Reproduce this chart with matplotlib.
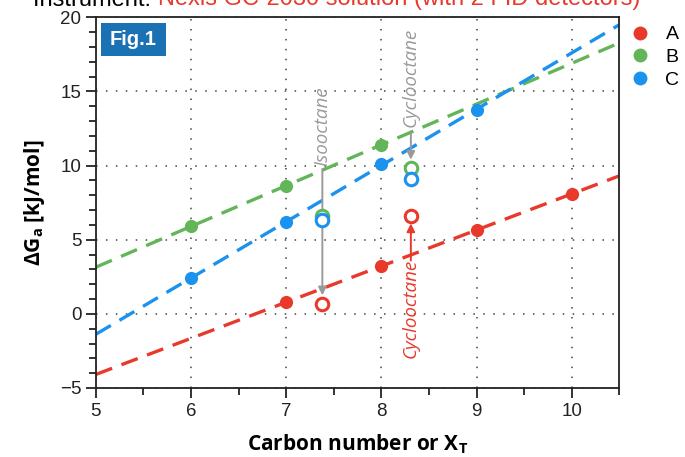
import numpy as np
import matplotlib
matplotlib.use("Agg")
import matplotlib.pyplot as plt
from matplotlib import font_manager
from matplotlib.patches import Rectangle
from matplotlib.lines import Line2D

names = {f.name for f in font_manager.fontManager.ttflist}
narrow = 'Liberation Sans Narrow' if 'Liberation Sans Narrow' in names else 'Liberation Sans'
plt.rcParams['font.family'] = [narrow, 'DejaVu Sans']
plt.rcParams['mathtext.default'] = 'regular'

# ---- data ----
series = ['A', 'B', 'C']
colors = {'A': '#e8392b', 'B': '#63b55a', 'C': '#1b93ee'}
filled_x = {'A': [7, 8, 9, 10], 'B': [6, 7, 8], 'C': [6, 7, 8, 9]}
filled_y = {'A': [0.8, 3.2, 5.65, 8.1], 'B': [5.9, 8.65, 11.4], 'C': [2.4, 6.2, 10.1, 13.75]}
open_x = {'A': [7.38, 8.31], 'B': [7.38, 8.31], 'C': [7.38, 8.31]}
open_y = {'A': [0.68, 6.6], 'B': [6.6, 9.85], 'C': [6.3, 9.1]}
xticks = [5, 6, 7, 8, 9, 10]
yticks = [-5, 0, 5, 10, 15, 20]

fig = plt.figure(figsize=(6.85, 4.57), dpi=100)
ax = fig.add_axes([0.140, 0.151, 0.764, 0.811])
ax.set_xlim(5, 10.5)
ax.set_ylim(-5, 20)

# fit lines
xl = np.array([5, 10.5])
for s in series:
    k, b = np.polyfit(filled_x[s], filled_y[s], 1)
    ax.plot(xl, k * xl + b, color=colors[s], lw=2.4, dashes=(5.2, 3), zorder=2)

# annotations (arrows)
gray = '#9a9a9a'
ax.annotate('', xy=(7.38, 1.25), xytext=(7.38, 9.75),
            arrowprops=dict(arrowstyle='-|>', color=gray, lw=1.4, mutation_scale=12,
                            shrinkA=0, shrinkB=0), zorder=3)
ax.annotate('', xy=(8.31, 10.4), xytext=(8.31, 12.2),
            arrowprops=dict(arrowstyle='-|>', color=gray, lw=1.4, mutation_scale=12,
                            shrinkA=0, shrinkB=0), zorder=3)
ax.annotate('', xy=(8.31, 6.1), xytext=(8.31, 3.6),
            arrowprops=dict(arrowstyle='-|>', color=colors['A'], lw=1.4, mutation_scale=12,
                            shrinkA=0, shrinkB=0), zorder=3)
tfont = dict(family=['Open Sans', 'DejaVu Sans'], style='italic', fontsize=13.5, rotation=90)
ax.text(7.38, 10.0, 'Isooctane', color=gray, ha='center', va='bottom', **tfont)
ax.text(8.31, 12.6, 'Cyclooctane', color=gray, ha='center', va='bottom', **tfont)
ax.text(8.31, 3.7, 'Cyclooctane', color=colors['A'], ha='center', va='top', **tfont)

# markers
for s in series:
    ax.plot(filled_x[s], filled_y[s], 'o', color=colors[s], ms=9.5, mew=0, zorder=5)
for s in ['A', 'B', 'C']:
    ax.plot(open_x[s], open_y[s], 'o', mfc='white', mec=colors[s], ms=9, mew=2.2, zorder=5)

# grid & ticks
ax.set_xticks(xticks)
ax.set_yticks(yticks)
ax.set_xticks(np.arange(5, 10.51, 0.5), minor=True)
ax.set_yticks(np.arange(-5, 20.1, 1), minor=True)
ax.grid(True, which='major', color='#444444', linestyle=(0, (1, 5.5)), lw=1.1)
ax.tick_params(which='both', direction='out', top=False, right=False, labelsize=13.5,
               width=1.3, colors='#222222')
ax.tick_params(which='major', length=7)
ax.tick_params(which='minor', length=5)
ax.set_yticklabels(['\u22125', '0', '5', '10', '15', '20'])
for sp in ax.spines.values():
    sp.set_linewidth(1.3)
    sp.set_color('#222222')

ax.set_xlabel(r'Carbon number or X$_T$', fontsize=15, fontweight='bold',
              family=['Open Sans', 'DejaVu Sans'], labelpad=9)
ax.set_ylabel(r'$\Delta$G$_a$ [kJ/mol]', fontsize=15, fontweight='bold',
              family=['Open Sans', 'DejaVu Sans'], labelpad=9)

# Fig.1 box
ax.add_patch(Rectangle((0.0096, 0.897), 0.124, 0.089, transform=ax.transAxes,
                       facecolor='#1a72b4', edgecolor='none', zorder=6))
ax.text(0.0096 + 0.062, 0.9415, 'Fig.1', transform=ax.transAxes, color='white',
        fontsize=14.5, fontweight='bold', ha='center', va='center', zorder=7,
        family=['Liberation Sans', 'DejaVu Sans'])

# legend
handles = [Line2D([], [], marker='o', ls='none', color=colors[s], ms=10, mew=0) for s in series]
ax.legend(handles, series, loc='upper left', bbox_to_anchor=(1.014, 0.988), frameon=False,
          handlelength=1.0, handletextpad=0.8, labelspacing=0.26, borderaxespad=0.0,
          borderpad=0.2, prop={'family': ['Liberation Sans', 'DejaVu Sans'], 'size': 14})

# title, cut off at top
t1 = fig.text(33 / 685, 1 - 5.5 / 457, 'Instrument: ', fontsize=17, va='baseline', ha='left',
              family=['Liberation Sans', 'DejaVu Sans'], color='black')
fig.canvas.draw()
bb = t1.get_window_extent()
fig.text(bb.x1 / fig.bbox.width, 1 - 5.5 / 457, 'Nexis GC-2030 solution (with 2 FID detectors)',
         fontsize=17, va='baseline', ha='left', family=['Liberation Sans', 'DejaVu Sans'],
         color='#e8392b')

fig.savefig('out.png', dpi=100)
